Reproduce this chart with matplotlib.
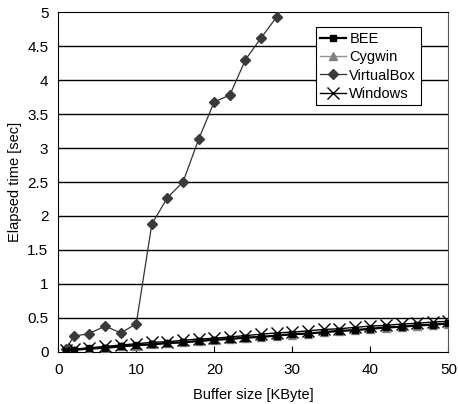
import matplotlib.pyplot as plt

plt.rcParams['font.family'] = ['Liberation Sans Narrow', 'Liberation Sans', 'DejaVu Sans']

# buffer sizes [KByte]
x_all = [1, 2, 4, 6, 8, 10, 12, 14, 16, 18, 20, 22, 24, 26, 28, 30, 32, 34, 36,
         38, 40, 42, 44, 46, 48, 50]
x_vbox = [1, 2, 4, 6, 8, 10, 12, 14, 16, 18, 20, 22, 24, 26, 28, 30]

bee = [0.02, 0.03, 0.05, 0.06, 0.08, 0.10, 0.11, 0.13, 0.14, 0.16, 0.18, 0.19,
       0.21, 0.22, 0.24, 0.26, 0.27, 0.29, 0.31, 0.32, 0.34, 0.36, 0.37, 0.39,
       0.40, 0.42]
cygwin = [0.02, 0.03, 0.04, 0.06, 0.08, 0.09, 0.11, 0.13, 0.14, 0.16, 0.17, 0.19,
          0.21, 0.22, 0.24, 0.25, 0.27, 0.29, 0.30, 0.32, 0.34, 0.35, 0.37, 0.38,
          0.40, 0.41]
vbox = [0.04, 0.23, 0.27, 0.38, 0.28, 0.41, 1.88, 2.27, 2.50, 3.13, 3.68, 3.78,
        4.30, 4.62, 4.93, 5.30]
windows = [0.03, 0.04, 0.06, 0.08, 0.10, 0.12, 0.14, 0.15, 0.17, 0.19, 0.20, 0.22,
           0.24, 0.26, 0.28, 0.29, 0.31, 0.33, 0.34, 0.36, 0.38, 0.39, 0.41, 0.42,
           0.44, 0.45]

fig = plt.figure(figsize=(4.58, 4.04), dpi=100)
ax = fig.add_axes([0.127, 0.129, 0.852, 0.841])

for y in [0.5, 1, 1.5, 2, 2.5, 3, 3.5, 4, 4.5]:
    ax.axhline(y, color='black', lw=1.0, zorder=1)

ax.plot(x_vbox, vbox, color='#333333', lw=0.9, marker='D', ms=5.5,
        mfc='#3a3a3a', mec='#3a3a3a', label='VirtualBox', zorder=3, clip_on=True)
ax.plot(x_all, cygwin, color='#909090', lw=1.0, marker='^', ms=5.5,
        mfc='#808080', mec='#808080', label='Cygwin', zorder=3)
ax.plot(x_all, bee, color='black', lw=1.6, marker='s', ms=4.5,
        mfc='black', mec='black', label='BEE', zorder=4)
ax.plot(x_all, windows, color='black', lw=1.0, marker='x', ms=9, mew=1.0,
        label='Windows', zorder=5)

ax.set_xlim(0, 50)
ax.set_ylim(0, 5)
ax.set_xticks([0, 10, 20, 30, 40, 50])
ax.set_yticks([0, 0.5, 1, 1.5, 2, 2.5, 3, 3.5, 4, 4.5, 5])
ax.set_yticklabels(['0', '0.5', '1', '1.5', '2', '2.5', '3', '3.5', '4', '4.5', '5'])
ax.tick_params(axis='x', direction='in', length=4, labelsize=11, pad=8)
ax.tick_params(axis='y', length=0, labelsize=11, pad=7)
for s in ax.spines.values():
    s.set_color('black')
ax.spines['right'].set_color('#555555')

ax.set_xlabel('Buffer size [KByte]', fontsize=10.5, labelpad=8)
ax.set_ylabel('Elapsed time [sec]', fontsize=10.5, labelpad=4)

h, l = ax.get_legend_handles_labels()
order = [l.index(n) for n in ['BEE', 'Cygwin', 'VirtualBox', 'Windows']]
leg = ax.legend([h[i] for i in order], [l[i] for i in order],
                loc='upper left', bbox_to_anchor=(0.66, 0.955), fontsize=10.5,
                frameon=True, fancybox=False, edgecolor='black', framealpha=1,
                handlelength=1.8, handletextpad=0.2, borderpad=0.3,
                labelspacing=0.3, borderaxespad=0)
leg.get_frame().set_linewidth(0.8)

fig.savefig('out.png', dpi=100)
